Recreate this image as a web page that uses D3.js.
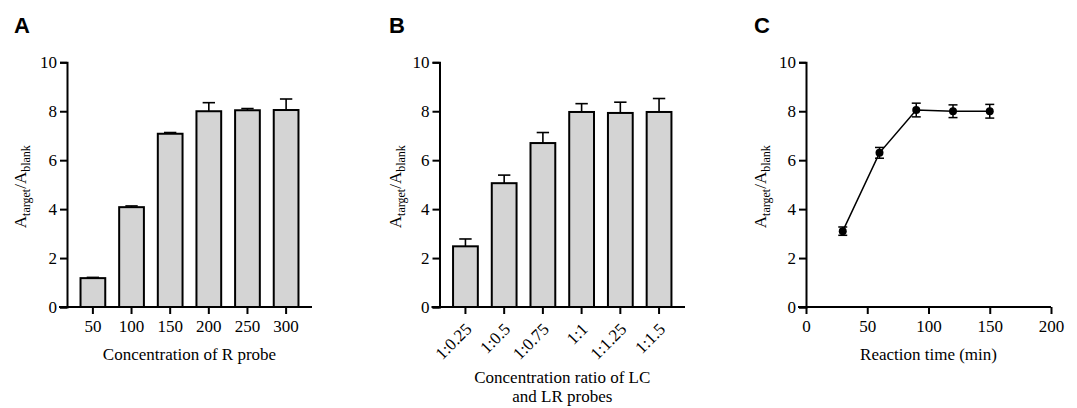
<!DOCTYPE html>
<html>
<head>
<meta charset="utf-8">
<script src="https://cdn.jsdelivr.net/npm/d3@7"></script>
<style>
  body { margin: 0; background: #fff; }
  svg text { font-family: "Liberation Serif", "Times New Roman", serif; fill: #000; }
  svg text.panel-label { font-family: "Liberation Sans", Arial, sans-serif; font-weight: bold; font-size: 22px; }
</style>
</head>
<body>
<div id="chart"></div>
<script>
// Panel A: concentration of R probe
const probeConc = ["50", "100", "150", "200", "250", "300"];
const probeValues = [1.18, 4.08, 7.08, 8.0, 8.04, 8.05];
const probeErrors = [0.03, 0.05, 0.05, 0.35, 0.07, 0.45];

// Panel B: ratio of LC and LR probes
const ratioLabels = ["1:0.25", "1:0.5", "1:0.75", "1:1", "1:1.25", "1:1.5"];
const ratioValues = [2.48, 5.06, 6.7, 7.97, 7.93, 7.97];
const ratioErrors = [0.3, 0.33, 0.43, 0.34, 0.44, 0.55];

// Panel C: reaction time
const reactionTime = [30, 60, 90, 120, 150];
const reactionValues = [3.1, 6.3, 8.05, 8.0, 8.0];
const reactionErrors = [0.17, 0.22, 0.28, 0.26, 0.28];

const yTicks = [0, 2, 4, 6, 8, 10];
const timeTicks = [0, 50, 100, 150, 200];

const serif = "'Liberation Serif', 'Times New Roman', serif";
const fs = 17;

const svg = d3.select("#chart")
  .append("svg")
  .attr("width", 1077)
  .attr("height", 408);

svg.append("rect")
  .attr("width", 1077)
  .attr("height", 408)
  .attr("fill", "#fff");

const plotTop = 62.3, plotBottom = 307;

function styleTicks(a) {
  a.attr("font-family", null).attr("font-size", null);
  a.select(".domain").attr("stroke-width", 2);
  a.selectAll(".tick line").attr("stroke-width", 2);
  a.selectAll(".tick text").style("font-family", serif).style("font-size", fs + "px");
}

function yAxisBlock(g, left, labelX) {
  const y = d3.scaleLinear().domain([0, 10]).range([plotBottom, plotTop]);

  g.append("g")
    .attr("transform", `translate(${left},0)`)
    .call(d3.axisLeft(y).tickValues(yTicks).tickSize(7).tickPadding(3))
    .call(styleTicks);

  const lab = g.append("text")
    .attr("transform", `translate(${labelX},${(plotTop + plotBottom) / 2 + 2}) rotate(-90)`)
    .attr("text-anchor", "middle")
    .style("font-size", fs + "px");
  lab.append("tspan").text("A");
  lab.append("tspan").style("font-size", "12px").attr("dy", 4).text("target");
  lab.append("tspan").attr("dy", -4).text("/A");
  lab.append("tspan").style("font-size", "12px").attr("dy", 4).text("blank");

  return y;
}

function barPanel(opts) {
  const g = svg.append("g");
  const y = yAxisBlock(g, opts.left, opts.labelX);

  const x = d3.scaleBand()
    .domain(opts.cats)
    .range([opts.left, opts.right])
    .paddingInner(0.36)
    .paddingOuter(0.35);

  const xAxis = g.append("g")
    .attr("transform", `translate(0,${plotBottom})`)
    .call(d3.axisBottom(x).tickSize(7).tickPadding(6).tickSizeOuter(0))
    .call(styleTicks)
    .call(a => a.select(".domain").attr("d", `M${opts.left - 8},0H${opts.right}`));

  if (opts.rotate) {
    xAxis.selectAll(".tick text")
      .attr("x", 0)
      .attr("y", 0)
      .attr("text-anchor", "end")
      .attr("dy", "0.35em")
      .attr("transform", "translate(3,19) rotate(-45)");
  }

  const rows = opts.cats.map((c, i) => ({ c, v: opts.values[i], e: opts.errors[i] }));
  const cap = x.bandwidth() / 2;

  const bars = g.append("g");
  bars.selectAll("line.err")
    .data(rows)
    .join("line")
    .attr("class", "err")
    .attr("x1", d => x(d.c) + x.bandwidth() / 2)
    .attr("x2", d => x(d.c) + x.bandwidth() / 2)
    .attr("y1", d => y(d.v))
    .attr("y2", d => y(d.v + d.e))
    .attr("stroke", "#000")
    .attr("stroke-width", 1.6);

  bars.selectAll("line.cap")
    .data(rows)
    .join("line")
    .attr("class", "cap")
    .attr("x1", d => x(d.c) + x.bandwidth() / 2 - cap / 2)
    .attr("x2", d => x(d.c) + x.bandwidth() / 2 + cap / 2)
    .attr("y1", d => y(d.v + d.e))
    .attr("y2", d => y(d.v + d.e))
    .attr("stroke", "#000")
    .attr("stroke-width", 1.6);

  bars.selectAll("rect")
    .data(rows)
    .join("rect")
    .attr("x", d => x(d.c))
    .attr("y", d => y(d.v))
    .attr("width", x.bandwidth())
    .attr("height", d => y(0) - y(d.v))
    .attr("fill", "#d4d4d4")
    .attr("stroke", "#000")
    .attr("stroke-width", 2);

  opts.title.forEach((t, i) => {
    g.append("text")
      .attr("x", (opts.left + opts.right) / 2)
      .attr("y", opts.titleY + i * 19)
      .attr("text-anchor", "middle")
      .style("font-size", fs + "px")
      .text(t);
  });

  svg.append("text")
    .attr("class", "panel-label")
    .attr("x", opts.panelX)
    .attr("y", 33)
    .text(opts.panel);
}

barPanel({
  panel: "A", panelX: 14,
  cats: probeConc, values: probeValues, errors: probeErrors,
  left: 67, right: 312, labelX: 26,
  title: ["Concentration of R probe"], titleY: 360
});

barPanel({
  panel: "B", panelX: 389,
  cats: ratioLabels, values: ratioValues, errors: ratioErrors,
  left: 439.5, right: 685, labelX: 401, rotate: true,
  title: ["Concentration ratio of LC", "and LR probes"], titleY: 383
});

// Panel C: line with error bars
(function () {
  const g = svg.append("g");
  const left = 806, right = 1051;
  const y = yAxisBlock(g, left, 766);
  const x = d3.scaleLinear().domain([0, 200]).range([left, right]);

  g.append("g")
    .attr("transform", `translate(0,${plotBottom})`)
    .call(d3.axisBottom(x).tickValues(timeTicks).tickSize(7).tickPadding(6).tickSizeOuter(0))
    .call(styleTicks)
    .call(a => a.select(".domain").attr("d", `M${left - 8},0H${right}`));

  const pts = reactionTime.map((t, i) => ({ t, v: reactionValues[i], e: reactionErrors[i] }));

  g.append("path")
    .datum(pts)
    .attr("fill", "none")
    .attr("stroke", "#000")
    .attr("stroke-width", 1.5)
    .attr("d", d3.line().x(d => x(d.t)).y(d => y(d.v)));

  const eb = g.append("g").attr("stroke", "#000").attr("stroke-width", 1.5);
  eb.selectAll("line.v")
    .data(pts).join("line").attr("class", "v")
    .attr("x1", d => x(d.t)).attr("x2", d => x(d.t))
    .attr("y1", d => y(d.v - d.e)).attr("y2", d => y(d.v + d.e));
  eb.selectAll("line.hi")
    .data(pts).join("line").attr("class", "hi")
    .attr("x1", d => x(d.t) - 4.5).attr("x2", d => x(d.t) + 4.5)
    .attr("y1", d => y(d.v + d.e)).attr("y2", d => y(d.v + d.e));
  eb.selectAll("line.lo")
    .data(pts).join("line").attr("class", "lo")
    .attr("x1", d => x(d.t) - 4.5).attr("x2", d => x(d.t) + 4.5)
    .attr("y1", d => y(d.v - d.e)).attr("y2", d => y(d.v - d.e));

  g.selectAll("circle")
    .data(pts).join("circle")
    .attr("cx", d => x(d.t))
    .attr("cy", d => y(d.v))
    .attr("r", 4)
    .attr("fill", "#000");

  g.append("text")
    .attr("x", (left + right) / 2)
    .attr("y", 360)
    .attr("text-anchor", "middle")
    .style("font-size", fs + "px")
    .text("Reaction time (min)");

  svg.append("text")
    .attr("class", "panel-label")
    .attr("x", 754)
    .attr("y", 33)
    .text("C");
})();
</script>
</body>
</html>
